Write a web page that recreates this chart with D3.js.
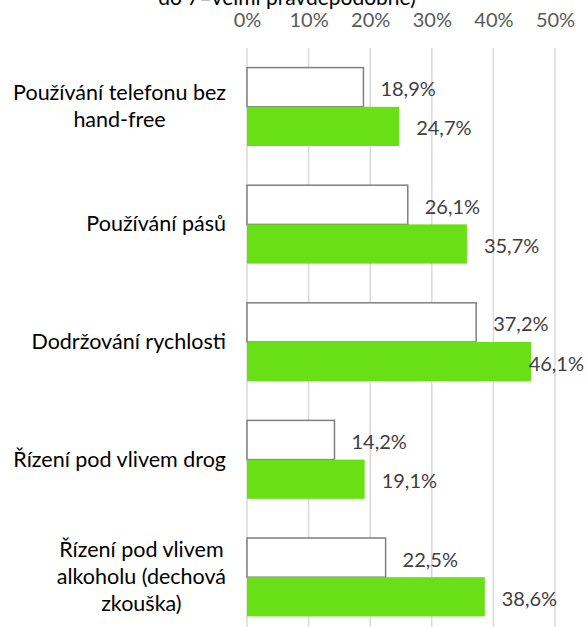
<!DOCTYPE html>
<html>
<head>
<meta charset="utf-8">
<script src="https://cdn.jsdelivr.net/npm/d3@7"></script>
<style>
  body { margin: 0; background: #fff; }
  svg { display: block; font-family: Lato, "Open Sans", sans-serif; }
</style>
</head>
<body>
<svg id="chart"></svg>
<script>
// data
var categories = [
    "Používání telefonu bez hand-free",
    "Používání pásů",
    "Dodržování rychlosti",
    "Řízení pod vlivem drog",
    "Řízení pod vlivem alkoholu (dechová zkouška)"
];
var categoryLines = [
    ["Používání telefonu bez", "hand-free"],
    ["Používání pásů"],
    ["Dodržování rychlosti"],
    ["Řízení pod vlivem drog"],
    ["Řízení pod vlivem", "alkoholu (dechová", "zkouška)"]
];
var seriesNames = ["s1", "s2"];
var series1 = [18.9, 26.1, 37.2, 14.2, 22.5];
var series2 = [24.7, 35.7, 46.1, 19.1, 38.6];
var tickValues = [0, 10, 20, 30, 40, 50];
var titleTail = "do 7=velmi pravděpodobné)";

var width = 587, height = 627;
var margin = { left: 247, right: 32, top: 48, bottom: -9 };
var fontSize = 20;
var catFontSize = 21.5;

var svg = d3.select("#chart")
    .attr("width", width)
    .attr("height", height);

// scales
var x = d3.scaleLinear()
    .domain([0, 50])
    .range([margin.left, width - margin.right]);

var y = d3.scaleBand()
    .domain(categories)
    .range([margin.top, height - margin.bottom])
    .padding(0);

var ySub = d3.scaleBand()
    .domain(seriesNames)
    .range([0, y.bandwidth()])
    .paddingInner(0)
    .paddingOuter(0.5);

// title (cut off at top, as in the source)
svg.append("text")
    .attr("x", 287)
    .attr("y", 5)
    .attr("text-anchor", "middle")
    .attr("font-size", 21)
    .attr("fill", "#000")
    .text(titleTail);

// gridlines
svg.append("g")
    .attr("class", "grid")
    .selectAll("line")
    .data(tickValues)
    .join("line")
    .attr("x1", d => x(d))
    .attr("x2", d => x(d))
    .attr("y1", margin.top)
    .attr("y2", height)
    .attr("stroke", "#d9d9d9")
    .attr("stroke-width", 1.5);

// top axis labels
var xAxis = svg.append("g")
    .attr("transform", "translate(0,27)")
    .call(d3.axisTop(x).tickValues(tickValues).tickSize(0).tickPadding(0)
        .tickFormat(d => d + "%"));
xAxis.select(".domain").remove();
xAxis.selectAll("text")
    .attr("font-family", "Lato")
    .attr("font-size", fontSize)
    .attr("fill", "#595959")
    .attr("dy", 0);

// bars
var rows = categories.map((c, i) => ({ cat: c, lines: categoryLines[i], v1: series1[i], v2: series2[i] }));

var groups = svg.append("g")
    .selectAll("g")
    .data(rows)
    .join("g")
    .attr("transform", d => "translate(0," + y(d.cat) + ")");

groups.append("rect")
    .attr("x", x(0))
    .attr("y", ySub("s1"))
    .attr("width", d => x(d.v1) - x(0))
    .attr("height", ySub.bandwidth())
    .attr("fill", "#fff")
    .attr("stroke", "#7f7f7f")
    .attr("stroke-width", 1.5);

groups.append("rect")
    .attr("x", x(0))
    .attr("y", ySub("s2"))
    .attr("width", d => x(d.v2) - x(0))
    .attr("height", ySub.bandwidth())
    .attr("fill", "#68e015");

// value labels
function fmt(v) { return v.toFixed(1).replace(".", ",") + "%"; }

function addValue(sel, key, sub) {
    sel.append("text")
        .attr("y", ySub(sub) + ySub.bandwidth() / 2 + 9)
        .attr("font-size", fontSize)
        .attr("fill", "#404040")
        .text(d => fmt(d[key]))
        .each(function(d) {
            // keep label inside the chart area
            var w = this.getComputedTextLength();
            var px = Math.min(x(d[key]) + 17, width - 3 - w);
            d3.select(this).attr("x", px);
        });
}
addValue(groups, "v1", "s1");
addValue(groups, "v2", "s2");

// category labels (centred lines, block right-aligned)
groups.each(function(d) {
    var g = d3.select(this);
    var n = d.lines.length;
    var texts = d.lines.map((ln, i) => g.append("text")
        .attr("font-size", catFontSize)
        .attr("fill", "#000")
        .attr("text-anchor", "middle")
        .attr("y", y.bandwidth() / 2 + 7 + (i - (n - 1) / 2) * 27)
        .text(ln));
    var maxW = d3.max(texts, t => t.node().getComputedTextLength());
    texts.forEach(t => t.attr("x", 226 - maxW / 2));
});
</script>
</body>
</html>
